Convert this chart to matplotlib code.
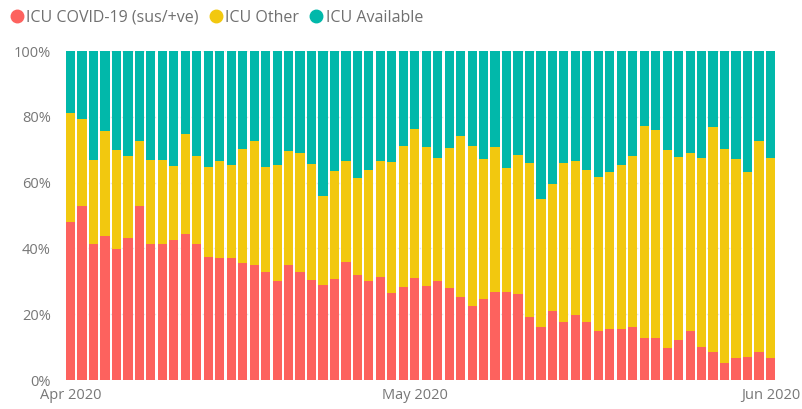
import numpy as np
import pandas as pd
import matplotlib
matplotlib.use('Agg')
import matplotlib.pyplot as plt
import matplotlib.dates as mdates
from matplotlib.lines import Line2D
from matplotlib.ticker import FuncFormatter

# Datos diarios de ocupación UCI (% de camas)
fechas = pd.date_range('2020-04-01', '2020-06-01', freq='D')

covid = [48.1, 53.0, 41.2, 43.9, 39.8, 43.3, 53.0, 41.2, 41.2, 42.6,
         44.3, 41.2, 37.5, 37.0, 37.2, 35.7, 35.0, 32.9, 30.1, 35.0,
         32.9, 30.4, 28.9, 30.7, 35.8, 31.9, 30.1, 31.2, 26.3, 28.4,
         30.9, 28.7, 30.1, 28.1, 25.2, 22.5, 24.6, 26.6, 26.6, 26.0,
         19.1, 16.2, 21.1, 17.5, 19.8, 17.7, 15.0, 15.4, 15.5, 16.2,
         12.9, 12.7, 9.6, 12.2, 15.0, 9.9, 8.4, 5.3, 6.8, 7.1,
         8.4, 6.6]

otros = [33.2, 26.2, 25.6, 31.8, 30.2, 24.8, 19.7, 25.8, 25.8, 22.5,
         30.6, 26.9, 27.1, 29.6, 28.1, 34.5, 37.7, 31.7, 35.2, 34.6,
         36.0, 35.3, 27.1, 32.8, 30.8, 29.4, 33.6, 35.4, 39.9, 42.7,
         45.5, 42.2, 37.5, 42.3, 49.1, 48.7, 42.6, 44.3, 37.7, 42.4,
         46.8, 38.7, 38.6, 48.4, 46.9, 46.0, 46.8, 47.7, 49.8, 51.9,
         64.3, 63.3, 60.2, 55.7, 53.9, 57.5, 68.6, 64.9, 60.4, 56.0,
         64.2, 60.8]

disponibles = [18.7, 20.8, 33.2, 24.3, 30.0, 31.9, 27.3, 33.0, 33.0, 34.9,
               25.1, 31.9, 35.4, 33.4, 34.7, 29.8, 27.3, 35.4, 34.7, 30.4,
               31.1, 34.3, 44.0, 36.5, 33.4, 38.7, 36.3, 33.4, 33.8, 28.9,
               23.6, 29.1, 32.4, 29.6, 25.7, 28.8, 32.8, 29.1, 35.7, 31.6,
               34.1, 45.1, 40.3, 34.1, 33.3, 36.3, 38.2, 36.9, 34.7, 31.9,
               22.8, 24.0, 30.2, 32.1, 31.1, 32.6, 23.0, 29.8, 32.8, 36.9,
               27.4, 32.6]

series = ['ICU COVID-19 (sus/+ve)', 'ICU Other', 'ICU Available']
colores = ['#FD625E', '#F2C80F', '#01B8AA']

# Normalizar a 100% por día
datos = np.array([covid, otros, disponibles])
datos = datos / datos.sum(axis=0) * 100

plt.rcParams['font.family'] = ['Open Sans', 'DejaVu Sans']

fig = plt.figure(figsize=(8.02, 4.09), dpi=100)
ax = fig.add_axes([66 / 802, 29 / 409, 709 / 802, 329 / 409])

x = mdates.date2num(fechas)
base = np.zeros(len(fechas))
for valores, color in zip(datos, colores):
    ax.bar(x, valores, bottom=base, width=0.8, color=color, zorder=2)
    base += valores

ax.set_ylim(0, 100)
ax.set_xlim(x[0] - 0.4, x[-1] + 0.4)
ax.set_yticks([0, 20, 40, 60, 80, 100])
ax.yaxis.set_major_formatter(FuncFormatter(lambda v, p: f'{v:.0f}%'))
ax.grid(axis='y', color='#e6e6e6', linestyle=':', linewidth=1, zorder=1)

ax.set_xticks(mdates.date2num(pd.to_datetime(['2020-04-01', '2020-05-01', '2020-06-01'])))
ax.xaxis.set_major_formatter(mdates.DateFormatter('%b %Y'))

for s in ax.spines.values():
    s.set_visible(False)
ax.tick_params(axis='both', length=0, labelcolor='#777777', labelsize=10.5)
ax.tick_params(axis='y', pad=11)
ax.tick_params(axis='x', pad=6)

# Leyenda con círculos
handles = [Line2D([0], [0], marker='o', linestyle='', markersize=9,
                  markerfacecolor=c, markeredgecolor=c) for c in colores]
leg = fig.legend(handles, series, loc='center left', bbox_to_anchor=(0.003, 1 - 18 / 409),
                 ncol=3, frameon=False, handletextpad=0.1, columnspacing=0.55,
                 handlelength=1.0, borderaxespad=0, fontsize=11.5)
for t in leg.get_texts():
    t.set_color('#707070')

plt.savefig('out.png', dpi=100)
